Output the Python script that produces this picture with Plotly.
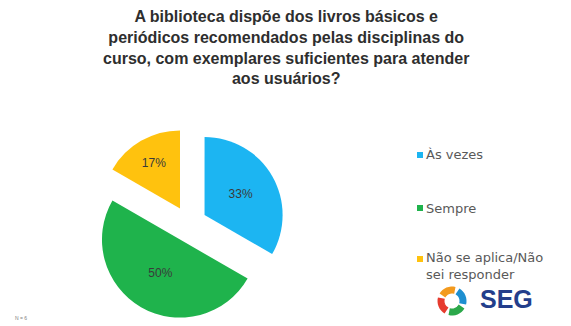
import math
import plotly.graph_objects as go

categories = ["Às vezes", "Sempre", "Não se aplica/Não<br>sei responder"]
counts = [2, 3, 1]
colors = ["#1CB5F2", "#1FB34C", "#FFC20E"]
title_lines = [
    "A biblioteca dispõe dos livros básicos e",
    "periódicos recomendados pelas disciplinas do",
    "curso, com exemplares suficientes para atender",
    "aos usuários?",
]
n_label = "N = 6"

W, H = 571, 326


def px(x):
    return x / W


def py(y):
    return 1 - y / H


fig = go.Figure()
fig.add_trace(go.Pie(
    labels=categories,
    values=counts,
    sort=False,
    direction="clockwise",
    rotation=0,
    pull=[0.23, 0.23, 0.23],
    marker=dict(colors=colors, line=dict(width=0)),
    texttemplate="%{percent:.0%}",
    textposition="inside",
    insidetextfont=dict(family="Liberation Sans, Arial", size=12, color="#3A3A3A"),
    domain=dict(x=[px(93), px(285)], y=[py(320), py(128)]),
    showlegend=False,
    hoverinfo="label+percent",
))

# legend drawn as annotations + small squares
leg_y = [155, 208, 266]
for lab, col, yy in zip(categories, colors, leg_y):
    my = yy if "<br>" not in lab else yy - 7
    fig.add_shape(type="rect", xref="paper", yref="paper",
                  x0=px(417), x1=px(423), y0=py(my + 3), y1=py(my - 3),
                  fillcolor=col, line=dict(width=0))
    fig.add_annotation(x=px(424), y=py(yy), xref="paper", yref="paper",
                       text=lab, showarrow=False, xanchor="left", yanchor="middle",
                       align="left",
                       font=dict(family="DejaVu Sans", size=13, color="#595959"))

fig.add_annotation(x=px(13), y=py(318), xref="paper", yref="paper",
                   text=n_label, showarrow=False, xanchor="left", yanchor="middle",
                   font=dict(family="Liberation Sans, Arial", size=5, color="#7F7F7F"))

# title
fig.add_annotation(x=0.5, y=py(6), xref="paper", yref="paper",
                   text="<b>" + "<br>".join(title_lines) + "</b>",
                   showarrow=False, xanchor="center", yanchor="top", align="center",
                   font=dict(family="Liberation Sans, Arial", size=16, color="#2E2E2E"))

# logo
fig.add_annotation(x=px(478), y=py(299), xref="paper", yref="paper",
                   text="<b>SEG</b>", showarrow=False, xanchor="left", yanchor="middle",
                   font=dict(family="Liberation Sans, Arial", size=25, color="#233E8B"))
logo_cols = ["#F39A1E", "#1E8FD0", "#2BA84A", "#E63B2E"]
cx, cy, r = 452, 301, 11
for i, c in enumerate(logo_cols):
    a0 = math.radians(150 - 90 * i)
    a1 = math.radians(150 - 90 * i - 75)
    pts = []
    steps = 8
    for k in range(steps + 1):
        a = a0 + (a1 - a0) * k / steps
        pts.append((cx + r * math.cos(a), cy - r * math.sin(a)))
    path = "M " + " L ".join(f"{px(x):.4f},{py(y):.4f}" for x, y in pts)
    fig.add_shape(type="path", xref="paper", yref="paper", path=path,
                  line=dict(color=c, width=7))

fig.update_layout(
    width=W, height=H,
    margin=dict(l=0, r=0, t=0, b=0),
    paper_bgcolor="white",
    plot_bgcolor="white",
    font=dict(family="Liberation Sans, Arial"),
)

fig.write_html("out.html", config={"displayModeBar": False},
               post_script="document.body.style.margin='0';")
